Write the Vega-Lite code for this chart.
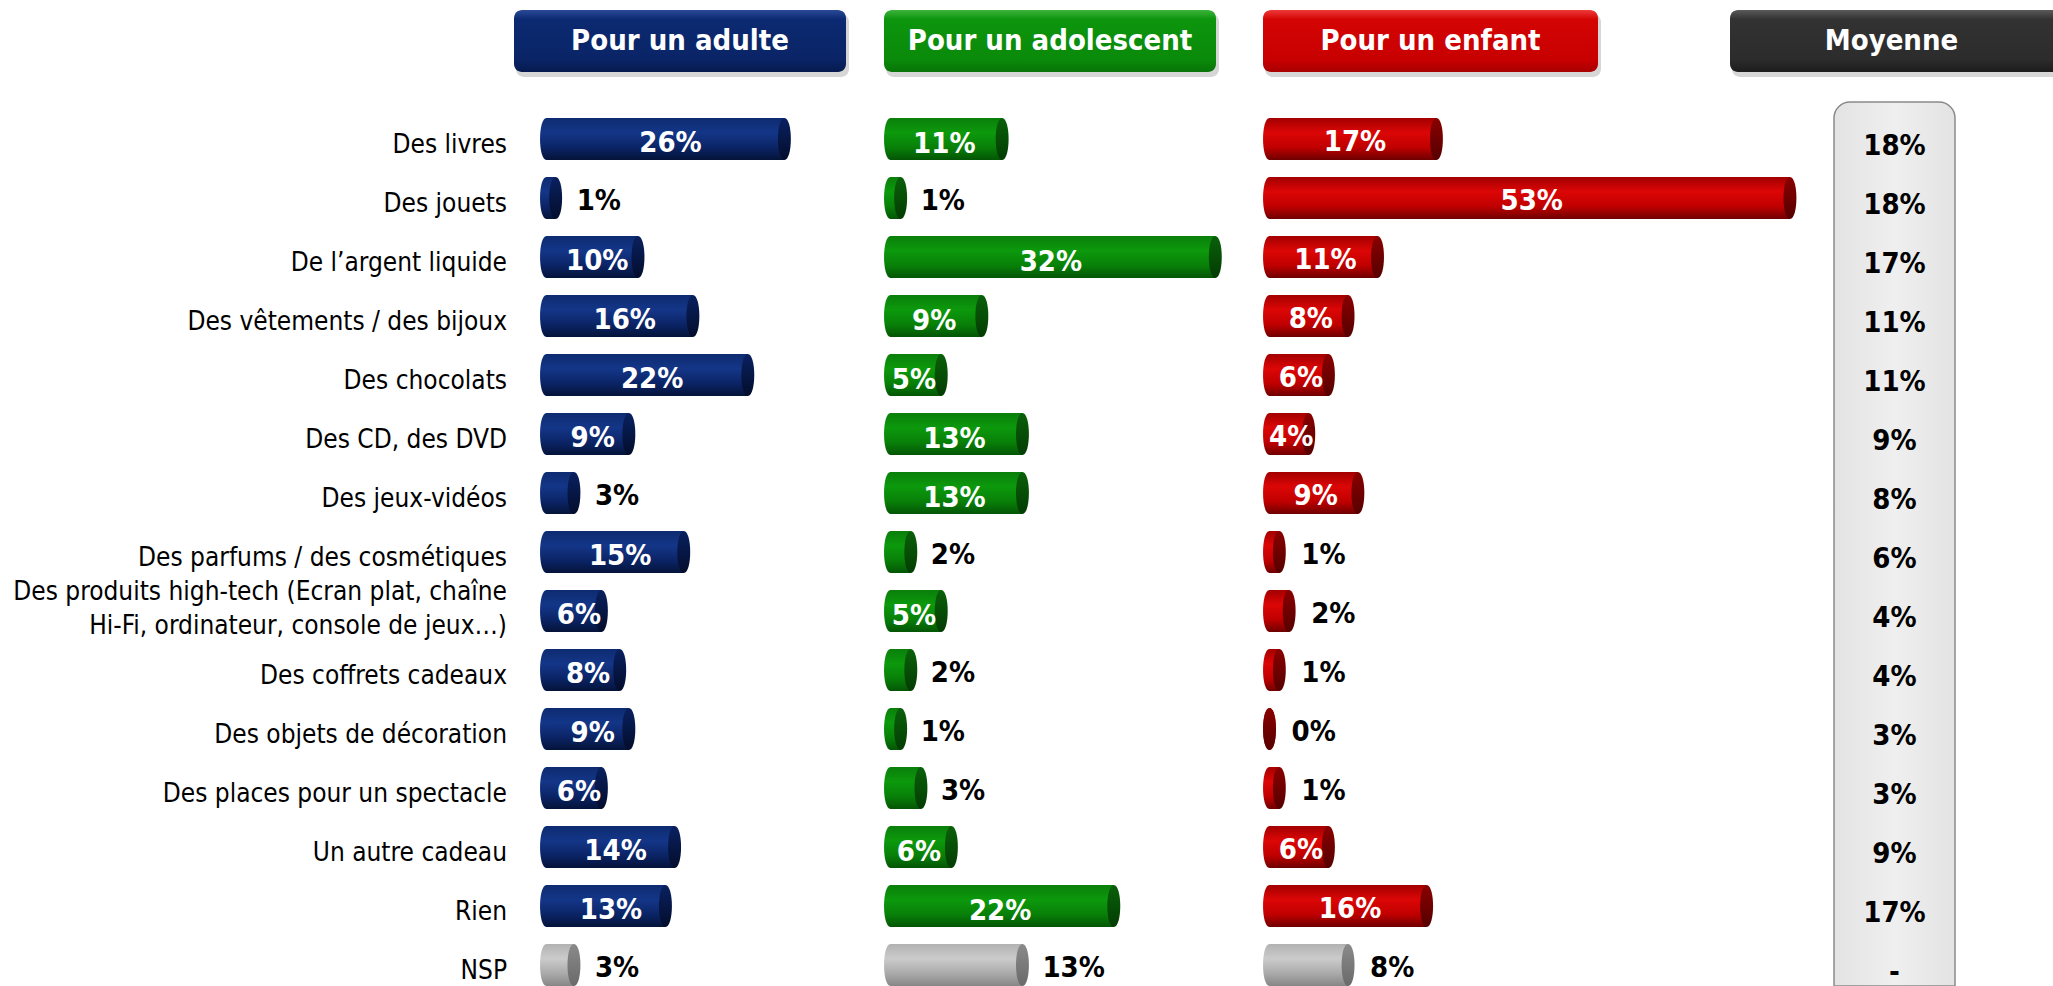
{
"$schema": "https://vega.github.io/schema/vega-lite/v6.json",
"padding": {"left": 0, "right": 0, "top": 10, "bottom": 0},
"autosize": {"type": "pad"},
"config": {"view": {"stroke": null}, "concat": {"spacing": 0}},
"datasets": {
"rows": [
{"item": "Des livres", "adulte": 0.26, "ado": 0.11, "enfant": 0.17, "moyenne": 0.18},
{"item": "Des jouets", "adulte": 0.01, "ado": 0.01, "enfant": 0.53, "moyenne": 0.18},
{"item": "De l’argent liquide", "adulte": 0.10, "ado": 0.32, "enfant": 0.11, "moyenne": 0.17},
{"item": "Des vêtements / des bijoux", "adulte": 0.16, "ado": 0.09, "enfant": 0.08, "moyenne": 0.11},
{"item": "Des chocolats", "adulte": 0.22, "ado": 0.05, "enfant": 0.06, "moyenne": 0.11},
{"item": "Des CD, des DVD", "adulte": 0.09, "ado": 0.13, "enfant": 0.04, "moyenne": 0.09},
{"item": "Des jeux-vidéos", "adulte": 0.03, "ado": 0.13, "enfant": 0.09, "moyenne": 0.08},
{"item": "Des parfums / des cosmétiques", "adulte": 0.15, "ado": 0.02, "enfant": 0.01, "moyenne": 0.06},
{"item": "Des produits high-tech (Ecran plat, chaîne\nHi-Fi, ordinateur, console de jeux…)", "adulte": 0.06, "ado": 0.05, "enfant": 0.02, "moyenne": 0.04},
{"item": "Des coffrets cadeaux", "adulte": 0.08, "ado": 0.02, "enfant": 0.01, "moyenne": 0.04},
{"item": "Des objets de décoration", "adulte": 0.09, "ado": 0.01, "enfant": 0.00, "moyenne": 0.03},
{"item": "Des places pour un spectacle", "adulte": 0.06, "ado": 0.03, "enfant": 0.01, "moyenne": 0.03},
{"item": "Un autre cadeau", "adulte": 0.14, "ado": 0.06, "enfant": 0.06, "moyenne": 0.09},
{"item": "Rien", "adulte": 0.13, "ado": 0.22, "enfant": 0.16, "moyenne": 0.17},
{"item": "NSP", "adulte": 0.03, "ado": 0.13, "enfant": 0.08, "moyenne": null}
]
},
"vconcat": [
{
"hconcat": [
{"width": 514, "height": 62, "data": {"values": [{}]}, "mark": {"type": "rect", "opacity": 0},
 "encoding": {"x": {"value": 0}, "x2": {"value": "width"}, "y": {"value": 0}, "y2": {"value": "height"}}},
{"width": 332, "height": 62, "data": {"values": [{"t": "Pour un adulte"}]},
 "layer": [
  {"mark": {"type": "rect", "cornerRadius": 8, "fill": "#000000", "opacity": 0.16, "xOffset": 2, "x2Offset": 3, "yOffset": 4, "y2Offset": 5},
   "encoding": {"x": {"value": 0}, "x2": {"value": "width"}, "y": {"value": 0}, "y2": {"value": "height"}}},
  {"mark": {"type": "rect", "cornerRadius": 8, "fill": {"gradient": "linear", "x1": 0, "y1": 0, "x2": 0, "y2": 1, "stops": [{"offset": 0, "color": "#2a4a98"}, {"offset": 0.15, "color": "#0c2a72"}, {"offset": 0.8, "color": "#0a2466"}, {"offset": 1, "color": "#061a4e"}]}},
   "encoding": {"x": {"value": 0}, "x2": {"value": "width"}, "y": {"value": 0}, "y2": {"value": "height"}}},
  {"mark": {"type": "text", "font": "DejaVu Sans Condensed", "fontWeight": "bold", "fontSize": 29, "fill": "#ffffff", "baseline": "middle", "align": "center"},
   "encoding": {"text": {"field": "t", "type": "nominal"}}}
 ]},
{"width": 38, "height": 62, "data": {"values": [{}]}, "mark": {"type": "rect", "opacity": 0},
 "encoding": {"x": {"value": 0}, "x2": {"value": "width"}, "y": {"value": 0}, "y2": {"value": "height"}}},
{"width": 332, "height": 62, "data": {"values": [{"t": "Pour un adolescent"}]},
 "layer": [
  {"mark": {"type": "rect", "cornerRadius": 8, "fill": "#000000", "opacity": 0.16, "xOffset": 2, "x2Offset": 3, "yOffset": 4, "y2Offset": 5},
   "encoding": {"x": {"value": 0}, "x2": {"value": "width"}, "y": {"value": 0}, "y2": {"value": "height"}}},
  {"mark": {"type": "rect", "cornerRadius": 8, "fill": {"gradient": "linear", "x1": 0, "y1": 0, "x2": 0, "y2": 1, "stops": [{"offset": 0, "color": "#3cb33c"}, {"offset": 0.15, "color": "#0d950d"}, {"offset": 0.8, "color": "#0a8a0a"}, {"offset": 1, "color": "#077307"}]}},
   "encoding": {"x": {"value": 0}, "x2": {"value": "width"}, "y": {"value": 0}, "y2": {"value": "height"}}},
  {"mark": {"type": "text", "font": "DejaVu Sans Condensed", "fontWeight": "bold", "fontSize": 29, "fill": "#ffffff", "baseline": "middle", "align": "center"},
   "encoding": {"text": {"field": "t", "type": "nominal"}}}
 ]},
{"width": 47, "height": 62, "data": {"values": [{}]}, "mark": {"type": "rect", "opacity": 0},
 "encoding": {"x": {"value": 0}, "x2": {"value": "width"}, "y": {"value": 0}, "y2": {"value": "height"}}},
{"width": 335, "height": 62, "data": {"values": [{"t": "Pour un enfant"}]},
 "layer": [
  {"mark": {"type": "rect", "cornerRadius": 8, "fill": "#000000", "opacity": 0.16, "xOffset": 2, "x2Offset": 3, "yOffset": 4, "y2Offset": 5},
   "encoding": {"x": {"value": 0}, "x2": {"value": "width"}, "y": {"value": 0}, "y2": {"value": "height"}}},
  {"mark": {"type": "rect", "cornerRadius": 8, "fill": {"gradient": "linear", "x1": 0, "y1": 0, "x2": 0, "y2": 1, "stops": [{"offset": 0, "color": "#ee3a3a"}, {"offset": 0.15, "color": "#d40404"}, {"offset": 0.8, "color": "#c80000"}, {"offset": 1, "color": "#a80000"}]}},
   "encoding": {"x": {"value": 0}, "x2": {"value": "width"}, "y": {"value": 0}, "y2": {"value": "height"}}},
  {"mark": {"type": "text", "font": "DejaVu Sans Condensed", "fontWeight": "bold", "fontSize": 29, "fill": "#ffffff", "baseline": "middle", "align": "center"},
   "encoding": {"text": {"field": "t", "type": "nominal"}}}
 ]},
{"width": 132, "height": 62, "data": {"values": [{}]}, "mark": {"type": "rect", "opacity": 0},
 "encoding": {"x": {"value": 0}, "x2": {"value": "width"}, "y": {"value": 0}, "y2": {"value": "height"}}},
{"width": 323, "height": 62, "data": {"values": [{"t": "Moyenne"}]},
 "layer": [
  {"mark": {"type": "rect", "cornerRadiusTopLeft": 8, "cornerRadiusBottomLeft": 8, "fill": "#000000", "opacity": 0.16, "xOffset": 2, "yOffset": 4, "y2Offset": 5},
   "encoding": {"x": {"value": 0}, "x2": {"value": "width"}, "y": {"value": 0}, "y2": {"value": "height"}}},
  {"mark": {"type": "rect", "cornerRadiusTopLeft": 8, "cornerRadiusBottomLeft": 8, "fill": {"gradient": "linear", "x1": 0, "y1": 0, "x2": 0, "y2": 1, "stops": [{"offset": 0, "color": "#5a5a5a"}, {"offset": 0.15, "color": "#323232"}, {"offset": 0.8, "color": "#2c2c2c"}, {"offset": 1, "color": "#1c1c1c"}]}},
   "encoding": {"x": {"value": 0}, "x2": {"value": "width"}, "y": {"value": 0}, "y2": {"value": "height"}}},
  {"mark": {"type": "text", "font": "DejaVu Sans Condensed", "fontWeight": "bold", "fontSize": 29, "fill": "#ffffff", "baseline": "middle", "align": "center"},
   "encoding": {"text": {"field": "t", "type": "nominal"}}}
 ]}
],
"spacing": 0, "bounds": "flush"
},
{
"hconcat": [
{"width": 514, "height": 884, "data": {"name": "rows"},
 "encoding": {
  "y": {"field": "item", "type": "nominal", "sort": null, "axis": null, "scale": {"type": "band", "domain": ["Des livres","Des jouets","De l’argent liquide","Des vêtements / des bijoux","Des chocolats","Des CD, des DVD","Des jeux-vidéos","Des parfums / des cosmétiques","Des produits high-tech (Ecran plat, chaîne\nHi-Fi, ordinateur, console de jeux…)","Des coffrets cadeaux","Des objets de décoration","Des places pour un spectacle","Un autre cadeau","Rien","NSP"], "paddingInner": 0.288, "paddingOuter": 0.1356, "align": 1}},
  "x": {"datum": 1, "type": "quantitative", "scale": {"domain": [0, 1], "nice": false}, "axis": null},
  "text": {"field": "item", "type": "nominal"}
 },
 "layer": [
  {"transform": [{"filter": "indexof(datum.item, '\\n') < 0"}],
   "mark": {"type": "text", "align": "right", "baseline": "middle", "font": "DejaVu Sans Condensed", "fontSize": 26, "dx": -7, "dy": 6, "fill": "#000000"}},
  {"transform": [{"filter": "indexof(datum.item, '\\n') >= 0"}],
   "mark": {"type": "text", "align": "right", "baseline": "middle", "font": "DejaVu Sans Condensed", "fontSize": 26, "lineBreak": "\n", "lineHeight": 34, "dx": -7, "dy": -19, "fill": "#000000"}}
 ]},
{"width": 370, "height": 884, "data": {"name": "rows"},
 "encoding": {"y": {"field": "item", "type": "nominal", "sort": null, "axis": null, "scale": {"type": "band", "domain": ["Des livres","Des jouets","De l’argent liquide","Des vêtements / des bijoux","Des chocolats","Des CD, des DVD","Des jeux-vidéos","Des parfums / des cosmétiques","Des produits high-tech (Ecran plat, chaîne\nHi-Fi, ordinateur, console de jeux…)","Des coffrets cadeaux","Des objets de décoration","Des places pour un spectacle","Un autre cadeau","Rien","NSP"], "paddingInner": 0.288, "paddingOuter": 0.1356, "align": 1}}},
 "layer": [
  {"mark": {"type": "bar"},
   "encoding": {
    "x": {"field": "adulte", "type": "quantitative", "scale": {"domain": [-0.03552, 0.36885], "nice": false, "zero": false}, "axis": null},
    "x2": {"datum": 0},
    "fill": {"condition": {"test": "datum.item === 'NSP'", "value": {"gradient": "linear", "x1": 0, "y1": 0, "x2": 0, "y2": 1, "stops": [{"offset": 0, "color": "#b2b2b2"}, {"offset": 0.35, "color": "#cbcbcb"}, {"offset": 0.7, "color": "#aaaaaa"}, {"offset": 1, "color": "#868686"}]}},
     "value": {"gradient": "linear", "x1": 0, "y1": 0, "x2": 0, "y2": 1, "stops": [{"offset": 0, "color": "#0d2b70"}, {"offset": 0.35, "color": "#143688"}, {"offset": 0.7, "color": "#0b2466"}, {"offset": 1, "color": "#041339"}]}}
   }},
  {"mark": {"type": "point", "shape": "M0,-1C0.41,-1 0.41,1 0,1C-0.41,1 -0.41,-1 0,-1Z", "size": 1764, "filled": true, "opacity": 1, "strokeWidth": 0},
   "encoding": {
    "x": {"datum": 0, "type": "quantitative", "scale": {"domain": [-0.03552, 0.36885], "nice": false, "zero": false}, "axis": null},
    "fill": {"condition": {"test": "datum.item === 'NSP'", "value": {"gradient": "linear", "x1": 0, "y1": 0, "x2": 0, "y2": 1, "stops": [{"offset": 0, "color": "#b2b2b2"}, {"offset": 0.35, "color": "#cbcbcb"}, {"offset": 0.7, "color": "#aaaaaa"}, {"offset": 1, "color": "#868686"}]}},
     "value": {"gradient": "linear", "x1": 0, "y1": 0, "x2": 0, "y2": 1, "stops": [{"offset": 0, "color": "#0d2b70"}, {"offset": 0.35, "color": "#143688"}, {"offset": 0.7, "color": "#0b2466"}, {"offset": 1, "color": "#041339"}]}}
   }},
  {"mark": {"type": "point", "shape": "M0,-1C0.41,-1 0.41,1 0,1C-0.41,1 -0.41,-1 0,-1Z", "size": 1764, "filled": true, "opacity": 1, "strokeWidth": 0},
   "encoding": {
    "x": {"field": "adulte", "type": "quantitative", "scale": {"domain": [-0.03552, 0.36885], "nice": false, "zero": false}, "axis": null},
    "fill": {"condition": {"test": "datum.item === 'NSP'", "value": {"gradient": "linear", "x1": 0, "y1": 0, "x2": 0, "y2": 1, "stops": [{"offset": 0, "color": "#8a8a8a"}, {"offset": 1, "color": "#6a6a6a"}]}},
     "value": {"gradient": "linear", "x1": 0, "y1": 0, "x2": 0, "y2": 1, "stops": [{"offset": 0, "color": "#0a2160"}, {"offset": 1, "color": "#030d2c"}]}}
   }},
  {"transform": [{"filter": "datum.adulte >= 0.04 && datum.item !== 'NSP'"}],
   "mark": {"type": "text", "font": "DejaVu Sans Condensed", "fontWeight": "bold", "fontSize": 29, "fill": "#ffffff", "align": "center", "baseline": "middle", "dy": 4, "dx": 5},
   "encoding": {
    "x": {"field": "adulte", "type": "quantitative", "scale": {"domain": [-0.07104, 0.7377], "nice": false, "zero": false}, "axis": null},
    "text": {"field": "adulte", "type": "quantitative", "format": ".0%"}
   }},
  {"transform": [{"filter": "datum.adulte < 0.04 || datum.item === 'NSP'"}],
   "mark": {"type": "text", "font": "DejaVu Sans Condensed", "fontWeight": "bold", "fontSize": 29, "fill": "#000000", "align": "left", "baseline": "middle", "dy": 3, "dx": 21},
   "encoding": {
    "x": {"field": "adulte", "type": "quantitative", "scale": {"domain": [-0.03552, 0.36885], "nice": false, "zero": false}, "axis": null},
    "text": {"field": "adulte", "type": "quantitative", "format": ".0%"}
   }}
 ],
 "resolve": {"scale": {"x": "independent"}}
},
{"width": 379, "height": 884, "data": {"name": "rows"},
 "encoding": {"y": {"field": "item", "type": "nominal", "sort": null, "axis": null, "scale": {"type": "band", "domain": ["Des livres","Des jouets","De l’argent liquide","Des vêtements / des bijoux","Des chocolats","Des CD, des DVD","Des jeux-vidéos","Des parfums / des cosmétiques","Des produits high-tech (Ecran plat, chaîne\nHi-Fi, ordinateur, console de jeux…)","Des coffrets cadeaux","Des objets de décoration","Des places pour un spectacle","Un autre cadeau","Rien","NSP"], "paddingInner": 0.288, "paddingOuter": 0.1356, "align": 1}}},
 "layer": [
  {"mark": {"type": "bar"},
   "encoding": {
    "x": {"field": "ado", "type": "quantitative", "scale": {"domain": [-0.0064, 0.367], "nice": false, "zero": false}, "axis": null},
    "x2": {"datum": 0},
    "fill": {"condition": {"test": "datum.item === 'NSP'", "value": {"gradient": "linear", "x1": 0, "y1": 0, "x2": 0, "y2": 1, "stops": [{"offset": 0, "color": "#b2b2b2"}, {"offset": 0.35, "color": "#cbcbcb"}, {"offset": 0.7, "color": "#aaaaaa"}, {"offset": 1, "color": "#868686"}]}},
     "value": {"gradient": "linear", "x1": 0, "y1": 0, "x2": 0, "y2": 1, "stops": [{"offset": 0, "color": "#0a7f0a"}, {"offset": 0.35, "color": "#0c990c"}, {"offset": 0.7, "color": "#088008"}, {"offset": 1, "color": "#045504"}]}}
   }},
  {"mark": {"type": "point", "shape": "M0,-1C0.41,-1 0.41,1 0,1C-0.41,1 -0.41,-1 0,-1Z", "size": 1764, "filled": true, "opacity": 1, "strokeWidth": 0},
   "encoding": {
    "x": {"datum": 0, "type": "quantitative", "scale": {"domain": [-0.0064, 0.367], "nice": false, "zero": false}, "axis": null},
    "fill": {"condition": {"test": "datum.item === 'NSP'", "value": {"gradient": "linear", "x1": 0, "y1": 0, "x2": 0, "y2": 1, "stops": [{"offset": 0, "color": "#b2b2b2"}, {"offset": 0.35, "color": "#cbcbcb"}, {"offset": 0.7, "color": "#aaaaaa"}, {"offset": 1, "color": "#868686"}]}},
     "value": {"gradient": "linear", "x1": 0, "y1": 0, "x2": 0, "y2": 1, "stops": [{"offset": 0, "color": "#0a7f0a"}, {"offset": 0.35, "color": "#0c990c"}, {"offset": 0.7, "color": "#088008"}, {"offset": 1, "color": "#045504"}]}}
   }},
  {"mark": {"type": "point", "shape": "M0,-1C0.41,-1 0.41,1 0,1C-0.41,1 -0.41,-1 0,-1Z", "size": 1764, "filled": true, "opacity": 1, "strokeWidth": 0},
   "encoding": {
    "x": {"field": "ado", "type": "quantitative", "scale": {"domain": [-0.0064, 0.367], "nice": false, "zero": false}, "axis": null},
    "fill": {"condition": {"test": "datum.item === 'NSP'", "value": {"gradient": "linear", "x1": 0, "y1": 0, "x2": 0, "y2": 1, "stops": [{"offset": 0, "color": "#8a8a8a"}, {"offset": 1, "color": "#6a6a6a"}]}},
     "value": {"gradient": "linear", "x1": 0, "y1": 0, "x2": 0, "y2": 1, "stops": [{"offset": 0, "color": "#0a600a"}, {"offset": 1, "color": "#033c03"}]}}
   }},
  {"transform": [{"filter": "datum.ado >= 0.04 && datum.item !== 'NSP'"}],
   "mark": {"type": "text", "font": "DejaVu Sans Condensed", "fontWeight": "bold", "fontSize": 29, "fill": "#ffffff", "align": "center", "baseline": "middle", "dy": 5, "dx": -2},
   "encoding": {
    "x": {"field": "ado", "type": "quantitative", "scale": {"domain": [-0.0128, 0.734], "nice": false, "zero": false}, "axis": null},
    "text": {"field": "ado", "type": "quantitative", "format": ".0%"}
   }},
  {"transform": [{"filter": "datum.ado < 0.04 || datum.item === 'NSP'"}],
   "mark": {"type": "text", "font": "DejaVu Sans Condensed", "fontWeight": "bold", "fontSize": 29, "fill": "#000000", "align": "left", "baseline": "middle", "dy": 3, "dx": 20},
   "encoding": {
    "x": {"field": "ado", "type": "quantitative", "scale": {"domain": [-0.0064, 0.367], "nice": false, "zero": false}, "axis": null},
    "text": {"field": "ado", "type": "quantitative", "format": ".0%"}
   }}
 ],
 "resolve": {"scale": {"x": "independent"}}
},
{"width": 571, "height": 884, "data": {"name": "rows"},
 "encoding": {"y": {"field": "item", "type": "nominal", "sort": null, "axis": null, "scale": {"type": "band", "domain": ["Des livres","Des jouets","De l’argent liquide","Des vêtements / des bijoux","Des chocolats","Des CD, des DVD","Des jeux-vidéos","Des parfums / des cosmétiques","Des produits high-tech (Ecran plat, chaîne\nHi-Fi, ordinateur, console de jeux…)","Des coffrets cadeaux","Des objets de décoration","Des places pour un spectacle","Un autre cadeau","Rien","NSP"], "paddingInner": 0.288, "paddingOuter": 0.1356, "align": 1}}},
 "layer": [
  {"mark": {"type": "bar"},
   "encoding": {
    "x": {"field": "enfant", "type": "quantitative", "scale": {"domain": [-0.00662, 0.57485], "nice": false, "zero": false}, "axis": null},
    "x2": {"datum": 0},
    "fill": {"condition": {"test": "datum.item === 'NSP'", "value": {"gradient": "linear", "x1": 0, "y1": 0, "x2": 0, "y2": 1, "stops": [{"offset": 0, "color": "#b2b2b2"}, {"offset": 0.35, "color": "#cbcbcb"}, {"offset": 0.7, "color": "#aaaaaa"}, {"offset": 1, "color": "#868686"}]}},
     "value": {"gradient": "linear", "x1": 0, "y1": 0, "x2": 0, "y2": 1, "stops": [{"offset": 0, "color": "#a30000"}, {"offset": 0.35, "color": "#dc0606"}, {"offset": 0.7, "color": "#c00000"}, {"offset": 1, "color": "#6e0000"}]}}
   }},
  {"mark": {"type": "point", "shape": "M0,-1C0.41,-1 0.41,1 0,1C-0.41,1 -0.41,-1 0,-1Z", "size": 1764, "filled": true, "opacity": 1, "strokeWidth": 0},
   "encoding": {
    "x": {"datum": 0, "type": "quantitative", "scale": {"domain": [-0.00662, 0.57485], "nice": false, "zero": false}, "axis": null},
    "fill": {"condition": {"test": "datum.item === 'NSP'", "value": {"gradient": "linear", "x1": 0, "y1": 0, "x2": 0, "y2": 1, "stops": [{"offset": 0, "color": "#b2b2b2"}, {"offset": 0.35, "color": "#cbcbcb"}, {"offset": 0.7, "color": "#aaaaaa"}, {"offset": 1, "color": "#868686"}]}},
     "value": {"gradient": "linear", "x1": 0, "y1": 0, "x2": 0, "y2": 1, "stops": [{"offset": 0, "color": "#a30000"}, {"offset": 0.35, "color": "#dc0606"}, {"offset": 0.7, "color": "#c00000"}, {"offset": 1, "color": "#6e0000"}]}}
   }},
  {"mark": {"type": "point", "shape": "M0,-1C0.41,-1 0.41,1 0,1C-0.41,1 -0.41,-1 0,-1Z", "size": 1764, "filled": true, "opacity": 1, "strokeWidth": 0},
   "encoding": {
    "x": {"field": "enfant", "type": "quantitative", "scale": {"domain": [-0.00662, 0.57485], "nice": false, "zero": false}, "axis": null},
    "fill": {"condition": {"test": "datum.item === 'NSP'", "value": {"gradient": "linear", "x1": 0, "y1": 0, "x2": 0, "y2": 1, "stops": [{"offset": 0, "color": "#8a8a8a"}, {"offset": 1, "color": "#6a6a6a"}]}},
     "value": {"gradient": "linear", "x1": 0, "y1": 0, "x2": 0, "y2": 1, "stops": [{"offset": 0, "color": "#8a0000"}, {"offset": 1, "color": "#560000"}]}}
   }},
  {"transform": [{"filter": "datum.enfant >= 0.04 && datum.item !== 'NSP'"}],
   "mark": {"type": "text", "font": "DejaVu Sans Condensed", "fontWeight": "bold", "fontSize": 29, "fill": "#ffffff", "align": "center", "baseline": "middle", "dy": 3, "dx": 2},
   "encoding": {
    "x": {"field": "enfant", "type": "quantitative", "scale": {"domain": [-0.01324, 1.1497], "nice": false, "zero": false}, "axis": null},
    "text": {"field": "enfant", "type": "quantitative", "format": ".0%"}
   }},
  {"transform": [{"filter": "datum.enfant < 0.04 || datum.item === 'NSP'"}],
   "mark": {"type": "text", "font": "DejaVu Sans Condensed", "fontWeight": "bold", "fontSize": 29, "fill": "#000000", "align": "left", "baseline": "middle", "dy": 3, "dx": 22},
   "encoding": {
    "x": {"field": "enfant", "type": "quantitative", "scale": {"domain": [-0.00662, 0.57485], "nice": false, "zero": false}, "axis": null},
    "text": {"field": "enfant", "type": "quantitative", "format": ".0%"}
   }}
 ],
 "resolve": {"scale": {"x": "independent"}}
},
{"width": 121, "height": 884,
 "layer": [
  {"data": {"values": [{}]},
   "mark": {"type": "rect", "cornerRadiusTopLeft": 16, "cornerRadiusTopRight": 16, "stroke": "#8a8a8a", "strokeWidth": 1.5,
    "fill": {"gradient": "linear", "x1": 0, "y1": 0, "x2": 1, "y2": 0, "stops": [{"offset": 0, "color": "#e3e3e3"}, {"offset": 0.5, "color": "#efefef"}, {"offset": 1, "color": "#e3e3e3"}]}},
   "encoding": {"x": {"value": 0}, "x2": {"value": "width"}, "y": {"value": 0}, "y2": {"value": "height"}}},
  {"data": {"name": "rows"},
   "mark": {"type": "text", "font": "DejaVu Sans Condensed", "fontWeight": "bold", "fontSize": 29, "fill": "#000000", "align": "center", "baseline": "middle", "dy": 7},
   "encoding": {
    "y": {"field": "item", "type": "nominal", "sort": null, "axis": null, "scale": {"type": "band", "domain": ["Des livres","Des jouets","De l’argent liquide","Des vêtements / des bijoux","Des chocolats","Des CD, des DVD","Des jeux-vidéos","Des parfums / des cosmétiques","Des produits high-tech (Ecran plat, chaîne\nHi-Fi, ordinateur, console de jeux…)","Des coffrets cadeaux","Des objets de décoration","Des places pour un spectacle","Un autre cadeau","Rien","NSP"], "paddingInner": 0.288, "paddingOuter": 0.1356, "align": 1}},
    "text": {"condition": {"test": "datum.moyenne === null", "value": "-"}, "field": "moyenne", "type": "quantitative", "format": ".0%"}
   }}
 ]}
],
"spacing": 0, "bounds": "flush"
}
],
"spacing": 24
}
